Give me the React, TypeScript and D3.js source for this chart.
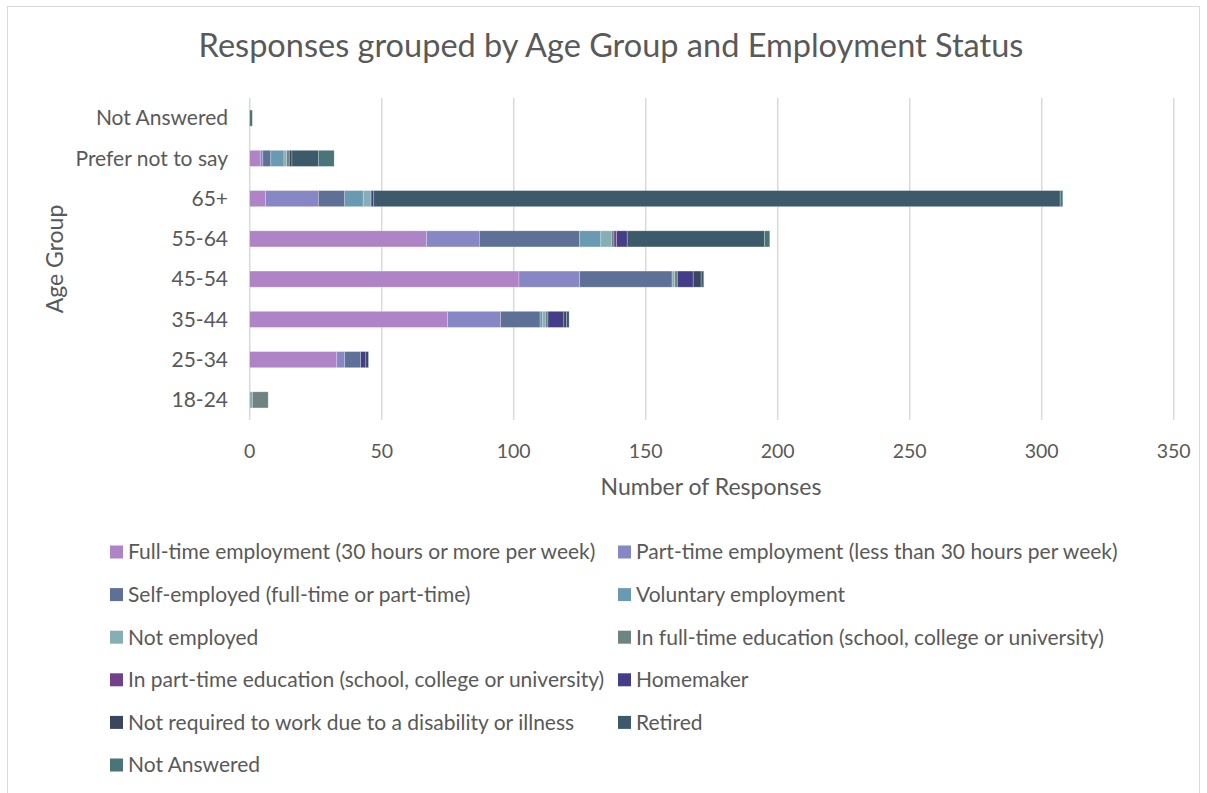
import React from "react";
import * as d3 from "d3";

const categories = ["Not Answered", "Prefer not to say", "65+", "55-64", "45-54", "35-44", "25-34", "18-24"];
const seriesNames = [
  "Full-time employment (30 hours or more per week)",
  "Part-time employment (less than 30 hours per week)",
  "Self-employed (full-time or part-time)",
  "Voluntary employment",
  "Not employed",
  "In full-time education (school, college or university)",
  "In part-time education (school, college or university)",
  "Homemaker",
  "Not required to work due to a disability or illness",
  "Retired",
  "Not Answered",
];
const seriesColors = ["#AE84C6", "#8887C6", "#5E7096", "#6A9AB1", "#86AEB5", "#6F8382", "#73418A", "#443D88", "#3A455E", "#3D5A6B", "#4A7478"];

const fullTime = [0, 4, 6, 67, 102, 75, 33, 0];
const partTime = [0, 1, 20, 20, 23, 20, 3, 0];
const selfEmployed = [0, 3, 10, 38, 35, 15, 6, 0];
const voluntary = [0, 5, 7, 8, 0, 1, 0, 0];
const notEmployed = [0, 1, 3, 4, 1, 1, 0, 1];
const fullTimeEdu = [0, 1, 0, 1, 1, 1, 0, 6];
const partTimeEdu = [0, 0, 0, 1, 0, 0, 0, 0];
const homemaker = [0, 0, 1, 4, 6, 6, 2, 0];
const notRequired = [0, 1, 0, 0, 3, 1, 1, 0];
const retired = [0, 10, 260, 52, 1, 1, 0, 0];
const notAnswered = [1, 6, 1, 2, 0, 0, 0, 0];

const xTicks = [0, 50, 100, 150, 200, 250, 300, 350];

const allSeries = [fullTime, partTime, selfEmployed, voluntary, notEmployed, fullTimeEdu, partTimeEdu, homemaker, notRequired, retired, notAnswered];

export default function App() {
  const font = "Lato, 'Open Sans', sans-serif";
  const textColor = "#595959";
  const x = d3.scaleLinear().domain([0, 350]).range([249.7, 1173.7]);
  const y = d3.scaleBand().domain(categories).range([98, 420]).paddingInner(0.6).paddingOuter(0.3);

  const rows = categories.map((c, i) => {
    const r: any = { cat: c };
    seriesNames.forEach((s, j) => (r[s] = allSeries[j][i]));
    return r;
  });
  const stacked = d3.stack<any>().keys(seriesNames)(rows);

  return (
    <svg width={1207} height={793} style={{ position: "absolute", left: 0, top: 0 }} fontFamily={font}>
      <rect x={0} y={0} width={1207} height={793} fill="#fff" />
      <rect x={7.5} y={6.5} width={1192} height={800} fill="none" stroke="#d9d9d9" />
      <text x={611} y={57} textAnchor="middle" fontSize={32.5} fill={textColor}>
        Responses grouped by Age Group and Employment Status
      </text>
      {xTicks.map((t) => (
        <line key={t} x1={x(t)} x2={x(t)} y1={98} y2={420} stroke="#d9d9d9" strokeWidth={1.5} />
      ))}
      {stacked.map((layer, j) =>
        layer.map((d, i) =>
          d[1] - d[0] > 0 ? (
            <rect
              key={j + "-" + i}
              x={x(d[0])}
              y={y(categories[i])!}
              width={x(d[1]) - x(d[0])}
              height={y.bandwidth()}
              fill={seriesColors[j]}
              stroke="#ffffff"
              strokeOpacity={0.35}
              strokeWidth={0.7}
            />
          ) : null
        )
      )}
      {categories.map((c) => (
        <text key={c} x={228} y={y(c)! + y.bandwidth() / 2} dy="0.35em" textAnchor="end" fontSize={21} fill={textColor}>
          {c}
        </text>
      ))}
      {xTicks.map((t) => (
        <text key={t} x={x(t)} y={458} textAnchor="middle" fontSize={19.5} fill={textColor}>
          {t}
        </text>
      ))}
      <text x={711} y={495} textAnchor="middle" fontSize={23} fill={textColor}>
        Number of Responses
      </text>
      <text transform="translate(63,259) rotate(-90)" textAnchor="middle" fontSize={23} fill={textColor}>
        Age Group
      </text>
      {seriesNames.map((s, j) => {
        const col = j % 2;
        const row = Math.floor(j / 2);
        const lx = col === 0 ? 110 : 618;
        const ly = 552 + row * 42.6;
        return (
          <g key={s}>
            <rect x={lx} y={ly - 6.5} width={13} height={13} fill={seriesColors[j]} />
            <text x={lx + 18} y={ly} dy="0.35em" fontSize={21} fill={textColor}>
              {s}
            </text>
          </g>
        );
      })}
    </svg>
  );
}
